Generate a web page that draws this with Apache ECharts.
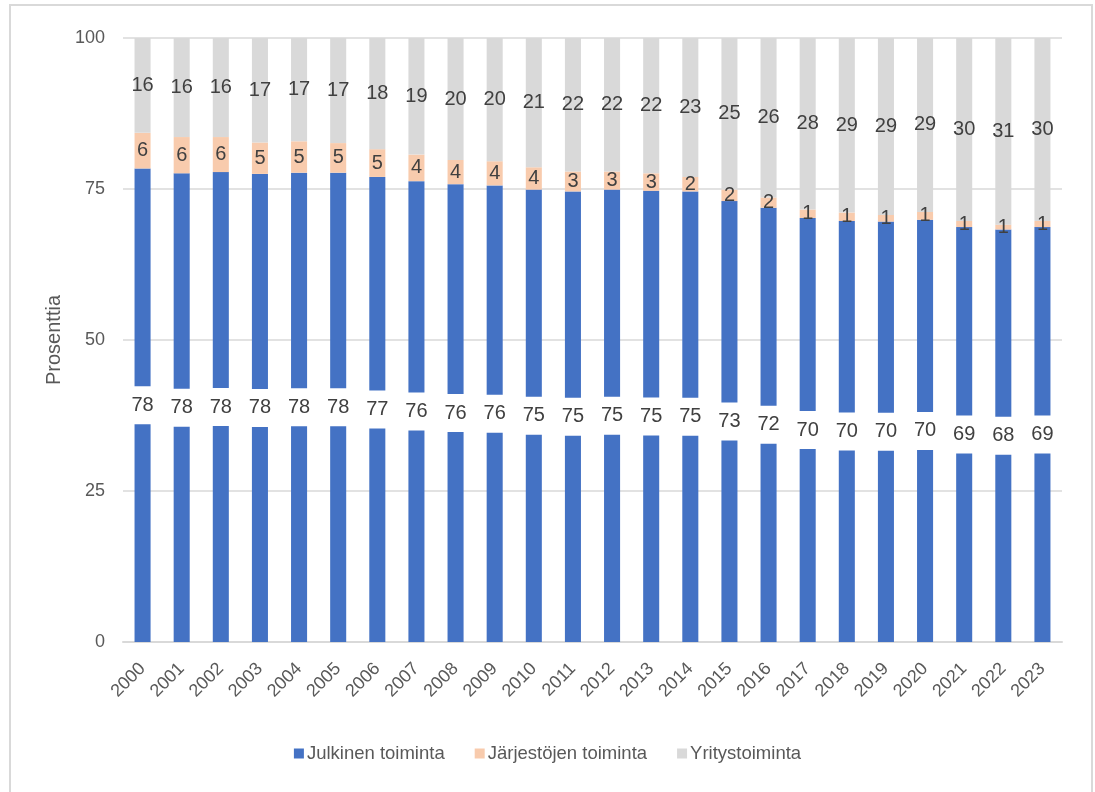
<!DOCTYPE html>
<html>
<head>
<meta charset="utf-8">
<script src="https://cdn.jsdelivr.net/npm/echarts@6/dist/echarts.min.js"></script>
<style>html,body{margin:0;padding:0;background:#fff;}#c{width:1095px;height:792px;}</style>
</head>
<body>
<div id="c"></div>
<script>
const years = ['2000','2001','2002','2003','2004','2005','2006','2007','2008','2009','2010','2011','2012','2013','2014','2015','2016','2017','2018','2019','2020','2021','2022','2023'];
const julkinen = [78.4,77.6,77.8,77.5,77.7,77.7,77.0,76.3,75.8,75.6,74.9,74.6,74.9,74.7,74.6,73.0,71.9,70.2,69.7,69.6,69.9,68.7,68.3,68.7];
const jarjestot = [5.9,6.0,5.8,5.2,5.2,4.9,4.6,4.4,4.0,4.0,3.7,3.3,3.0,2.9,2.4,1.9,1.7,1.4,1.4,1.1,1.3,1.0,0.8,1.0];
const yritys = [15.7,16.4,16.4,17.3,17.1,17.4,18.4,19.3,20.2,20.4,21.4,22.1,22.1,22.4,23.0,25.1,26.4,28.4,28.9,29.3,28.8,30.3,30.9,30.3];
const yTicks = [0,25,50,75,100];
const seriesNames = ['Julkinen toiminta','Järjestöjen toiminta','Yritystoiminta'];

const FONT = '"Liberation Sans", Arial, sans-serif';
const chart = echarts.init(document.getElementById('c'), null, {renderer:'canvas'});
const lab = (extra) => Object.assign({
  show:true, position:'inside', color:'#404040', fontSize:20, fontFamily:FONT,
  formatter: p => Math.round(p.value)
}, extra || {});
chart.setOption({
  animation:false,
  backgroundColor:'#fff',
  graphic:[{type:'rect', shape:{x:10,y:5,width:1082,height:800}, style:{fill:'none', stroke:'#D9D9D9', lineWidth:2}, silent:true}],
  grid:{left:123, right:33, top:38, bottom:150},
  legend:{
    data:seriesNames, bottom:24, left:'center', itemWidth:10, itemHeight:10, itemGap:30,
    icon:'rect', textStyle:{color:'#595959', fontSize:18.5, fontFamily:FONT, padding:[0,0,0,-2]}
  },
  xAxis:{
    type:'category', data:years,
    axisLine:{lineStyle:{color:'#D9D9D9', width:2}},
    axisTick:{show:false},
    axisLabel:{rotate:45, color:'#595959', fontSize:18, fontFamily:FONT, margin:24, interval:0}
  },
  yAxis:{
    type:'value', min:0, max:100, interval:25,
    name:'Prosenttia', nameLocation:'middle', nameGap:58, nameRotate:90,
    nameTextStyle:{color:'#595959', fontSize:20, fontFamily:FONT},
    axisLine:{show:false}, axisTick:{show:false},
    splitLine:{lineStyle:{color:'#D9D9D9', width:1.5}},
    axisLabel:{color:'#595959', fontSize:18, fontFamily:FONT, margin:18,
      formatter: v => yTicks.includes(v) ? String(v) : ''}
  },
  series:[
    {name:seriesNames[0], type:'bar', stack:'a', data:julkinen, barCategoryGap:'59%',
     itemStyle:{color:'#4472C4'},
     label:lab({backgroundColor:'#fff', padding:[9,4], lineHeight:20})},
    {name:seriesNames[1], type:'bar', stack:'a', data:jarjestot,
     itemStyle:{color:'#F8CBAD'}, label:lab()},
    {name:seriesNames[2], type:'bar', stack:'a', data:yritys,
     itemStyle:{color:'#D9D9D9'}, label:lab()}
  ]
});
</script>
</body>
</html>
